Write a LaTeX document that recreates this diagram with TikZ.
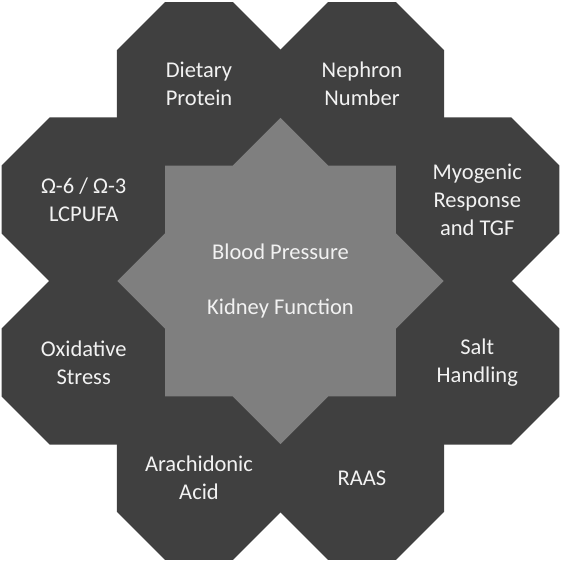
\documentclass[tikz,border=0pt]{standalone}
\usepackage{fontspec}
\setmainfont{Carlito}
\usetikzlibrary{shapes.geometric}
\definecolor{darkfill}{HTML}{404040}
\definecolor{midfill}{HTML}{7F7F7F}
\definecolor{lighttext}{HTML}{F2F2F2}
\begin{document}
\begin{tikzpicture}[x=1pt, y=1pt,
    octa/.style={regular polygon, regular polygon sides=8, minimum size=176.4pt, inner sep=0pt,
        fill=darkfill, draw=darkfill, line width=1.2pt, text=lighttext, align=center,
        font=\fontsize{22.5}{28}\selectfont},
    hub/.style={star, star points=8, minimum size=326pt, star point height=38.2pt, inner sep=0pt,
        fill=midfill, text=lighttext, align=center, font=\fontsize{22.5}{28}\selectfont}]
    \useasboundingbox (-280.5,-281) rectangle (280.5,281);

    % Ring of octagons
    \node[octa] (diet)    at (-81.5,196.8)  {Dietary\\Protein};
    \node[octa] (nephron) at (81.5,196.8)   {Nephron\\Number};
    \node[octa] (myo)     at (196.8,81.5)   {Myogenic\\Response\\and TGF};
    \node[octa] (salt)    at (196.8,-81.5)  {Salt\\Handling};
    \node[octa] (raas)    at (81.5,-196.8)  {RAAS};
    \node[octa] (arach)   at (-81.5,-196.8) {Arachidonic\\Acid};
    \node[octa] (oxid)    at (-196.8,-81.5) {Oxidative\\Stress};
    \node[octa] (omega)   at (-196.8,81.5)  {Ω-6 / Ω-3\\LCPUFA};

    % Centre star
    \node[hub] (bp) at (0,0) {Blood Pressure\\[27pt]Kidney Function};
\end{tikzpicture}
\end{document}
